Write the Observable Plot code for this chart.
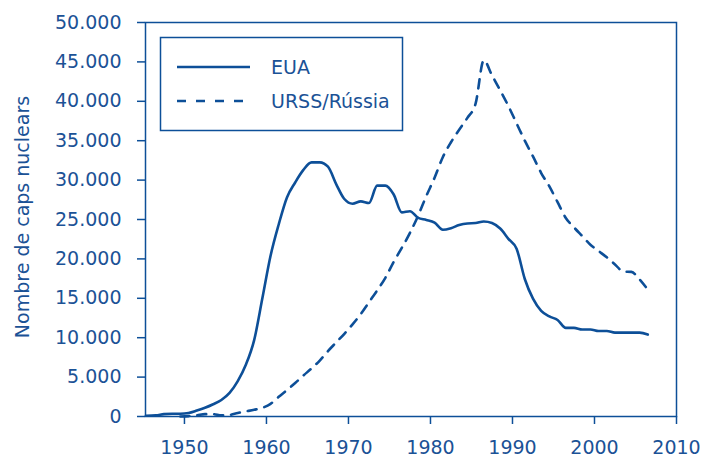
<!DOCTYPE html>
<html>
<head>
<meta charset="utf-8">
<script src="https://cdn.jsdelivr.net/npm/d3@7"></script>
<script src="https://cdn.jsdelivr.net/npm/@observablehq/plot@0.6"></script>
<style>
  html, body { margin: 0; padding: 0; background: #fff; }
  #chart { position: relative; width: 704px; height: 457px; }
</style>
</head>
<body>
<div id="chart"></div>
<script>
// ---- Data (points sit at mid-year) ----
const usYears = [1945.3, 1946.5, 1947.5, 1948.5, 1949.5, 1950.5, 1951.5, 1952.5, 1953.5, 1954.5,
  1955.5, 1956.5, 1957.5, 1958.5, 1959.5, 1960.5, 1961.5, 1962.5, 1963.5, 1964.5,
  1965.5, 1966.5, 1967.5, 1968.5, 1969.5, 1970.5, 1971.5, 1972.5, 1973.5, 1974.5,
  1975.5, 1976.5, 1977.5, 1978.5, 1979.5, 1980.5, 1981.5, 1982.5, 1983.5, 1984.5,
  1985.5, 1986.5, 1987.5, 1988.5, 1989.5, 1990.5, 1991.5, 1992.5, 1993.5, 1994.5,
  1995.5, 1996.5, 1997.5, 1998.5, 1999.5, 2000.5, 2001.5, 2002.5, 2003.5, 2004.5,
  2005.5, 2006.5];
const usValues = [100, 150, 300, 350, 350, 450, 750, 1100, 1550, 2100,
  3000, 4500, 6600, 9700, 15000, 20400, 24400, 27800, 29700, 31300,
  32250, 32250, 31700, 29500, 27600, 27000, 27300, 27100, 29300, 29300,
  28200, 25900, 26050, 25200, 24950, 24600, 23700, 23900, 24300, 24500,
  24550, 24750, 24550, 23850, 22550, 21300, 17450, 14950, 13400, 12700,
  12250, 11250, 11250, 11050, 11050, 10850, 10850, 10650, 10650, 10650,
  10650, 10400];

const ussrYears = [1949.5, 1950.5, 1951.5, 1952.5, 1953.5, 1954.5, 1955.5, 1956.5, 1957.5, 1958.5,
  1959.5, 1960.5, 1961.5, 1962.5, 1963.5, 1964.5, 1965.5, 1966.5, 1967.5, 1968.5,
  1969.5, 1970.5, 1971.5, 1972.5, 1973.5, 1974.5, 1975.5, 1976.5, 1977.5, 1978.5,
  1979.5, 1980.5, 1981.5, 1982.5, 1983.5, 1984.5, 1985.5, 1986.5, 1987.5, 1988.5,
  1989.5, 1990.5, 1991.5, 1992.5, 1993.5, 1994.5, 1995.5, 1996.5, 1997.5, 1998.5,
  1999.5, 2000.5, 2001.5, 2002.5, 2003.5, 2004.5, 2005.5, 2006.5];
const ussrValues = [0, 50, 150, 300, 300, 150, 200, 450, 650, 850,
  1100, 1600, 2500, 3350, 4250, 5200, 6100, 7100, 8300, 9400,
  10500, 11700, 13000, 14500, 16000, 17600, 19600, 21400, 23300, 25500,
  28000, 30300, 32900, 34800, 36400, 37900, 39700, 45200, 43300, 41400,
  39400, 37200, 35000, 33000, 30900, 29200, 27200, 25200, 24000, 22900,
  21800, 21000, 20200, 19300, 18400, 18350, 17400, 16100];

const xTicks = [1950, 1960, 1970, 1980, 1990, 2000, 2010];
const yTicks = [0, 5000, 10000, 15000, 20000, 25000, 30000, 35000, 40000, 45000, 50000];
const seriesNames = ["EUA", "URSS/Rússia"];
const yTitle = "Nombre de caps nuclears";

// ---- Build tables ----
const us = usYears.map((x, i) => ({x, y: usValues[i]}));
const ussr = ussrYears.map((x, i) => ({x, y: ussrValues[i]}));

const BLUE = "#0d4f98";
const TEXT = "#1b5296";
const FONT = "DejaVu Sans";
const fmt = d => d3.format(",")(d).replace(/,/g, ".");

const plot = Plot.plot({
  width: 704,
  height: 457,
  marginLeft: 145,
  marginRight: 28,
  marginTop: 22,
  marginBottom: 41,
  style: {fontFamily: FONT, fontSize: "19px", color: TEXT, background: "#fff", overflow: "visible"},
  x: {domain: [1945.25, 2010], label: null},
  y: {domain: [0, 50000], label: null},
  marks: [
    Plot.frame({stroke: BLUE, strokeWidth: 1.5}),
    Plot.axisX({ticks: xTicks, tickFormat: d => String(d), tickSize: 8, tickPadding: 16,
      stroke: BLUE, strokeWidth: 1.5, fill: TEXT, label: null}),
    Plot.axisY({ticks: yTicks, tickFormat: fmt, tickSize: 8, tickPadding: 16,
      stroke: BLUE, strokeWidth: 1.5, fill: TEXT, label: null}),
    Plot.line(ussr, {x: "x", y: "y", stroke: BLUE, strokeWidth: 2.6, strokeDasharray: "9,8", curve: "monotone-x"}),
    Plot.line(us, {x: "x", y: "y", stroke: BLUE, strokeWidth: 2.6, curve: "monotone-x"})
  ]
});

document.getElementById("chart").appendChild(plot);

// ---- Y title and legend ----
const svg = d3.select(plot);
svg.append("text")
  .attr("transform", "translate(22,217) rotate(-90)")
  .attr("text-anchor", "middle")
  .attr("dominant-baseline", "central")
  .attr("fill", TEXT)
  .style("font-family", FONT)
  .style("font-size", "19px")
  .text(yTitle);

const lg = svg.append("g");
lg.append("rect")
  .attr("x", 160.5).attr("y", 37.5).attr("width", 242).attr("height", 93)
  .attr("fill", "#fff").attr("stroke", BLUE).attr("stroke-width", 1.5);
const dashes = [null, "9,10"];
seriesNames.forEach((name, i) => {
  const yy = 67 + i * 34;
  lg.append("line")
    .attr("x1", 177).attr("x2", 250).attr("y1", yy).attr("y2", yy)
    .attr("stroke", BLUE).attr("stroke-width", 2.6)
    .attr("stroke-dasharray", dashes[i]);
  lg.append("text")
    .attr("x", 271).attr("y", yy + 7)
    .attr("text-anchor", "start")
    .attr("fill", TEXT)
    .style("font-family", FONT)
    .style("font-size", "19px")
    .text(name);
});
</script>
</body>
</html>
